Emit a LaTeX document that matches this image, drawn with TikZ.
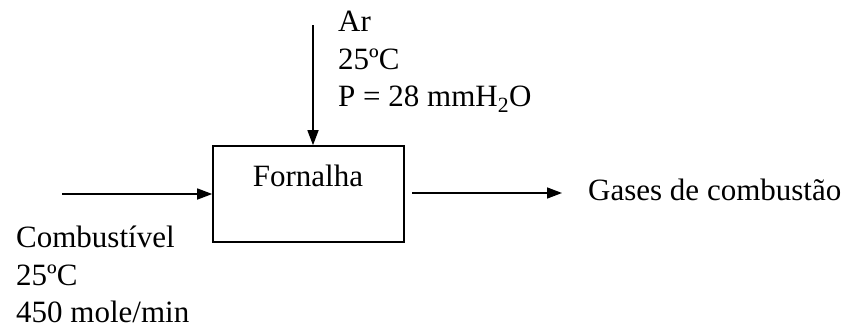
\documentclass[tikz,border=0pt]{standalone}
\usepackage{fontspec}
\setmainfont{Liberation Serif}
\usetikzlibrary{arrows.meta}
\begin{document}
\begin{tikzpicture}[x=1pt,y=-1pt,
  lbl/.style={inner sep=0pt,font=\fontsize{31}{37.5}\selectfont,align=left},
  arr/.style={line width=1.5pt,-{Triangle[length=15pt,width=11pt]}},
  box/.style={draw,line width=1.6pt,minimum width=191pt,minimum height=96pt,inner sep=0pt}]
\useasboundingbox (0,0) rectangle (850,324);
\node[box] (f) at (308.5,194) {};
\node[lbl,anchor=base] (ft) at (308,186) {Fornalha};
\coordinate (inT) at (313,25);
\coordinate (inL) at (62,194);
\coordinate (outS) at (412,193);
\coordinate (outE) at (562,193);
\draw[arr] (inT) -- (inT |- f.north);
\draw[arr] (inL) -- (f.west);
\draw[arr] (outS) -- (outE);
\node[lbl,anchor=north west] (ar) at (338,11) {Ar\\25ºC\\P = 28 mmH\textsubscript{2}O};
\node[lbl,anchor=north west] (comb) at (16,226) {Combustível\\25ºC\\450 mole/min};
\node[lbl,anchor=base west] (gas) at (588,200) {Gases de combustão};
\end{tikzpicture}
\end{document}
